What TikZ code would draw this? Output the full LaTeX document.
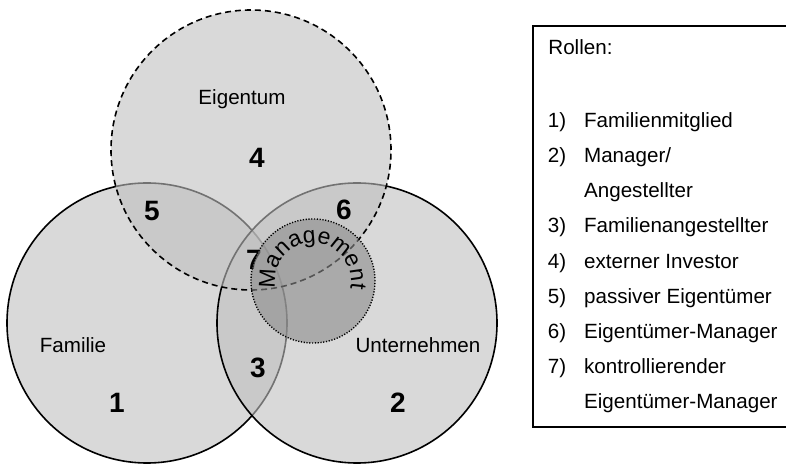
\documentclass[tikz,border=0pt]{standalone}
\usepackage{fontspec}
\setmainfont{Liberation Sans}
\usetikzlibrary{matrix,decorations.text}
\newcommand{\vennfont}{\fontsize{10.3}{12.4}\selectfont}
\newcommand{\mgmtfont}{\fontsize{11.5}{13.8}\selectfont}
\newcommand{\numfont}{\fontsize{14}{16}\selectfont\bfseries}

\begin{document}
\begin{tikzpicture}[x=0.5pt, y=0.5pt,
		menge/.style={circle, inner sep=0pt, minimum size=140pt, draw=black, line width=0.8pt, fill=black!25, fill opacity=0.6},
		mgmt/.style={circle, inner sep=0pt, minimum size=62pt, draw=black, line width=0.7pt, dash pattern=on 0.6pt off 0.8pt, fill=black!45, fill opacity=0.6},
		titel/.style={font=\vennfont, inner sep=0pt},
		nr/.style={font=\numfont, inner sep=0pt}]
	\useasboundingbox (0,0) rectangle (786,465);
	\node (fam) [menge] at (147,142) {};
	\node (unt) [menge] at (357,142) {};
	\node (eig) [menge, dash pattern=on 3pt off 2pt] at (251,315) {};
	\node (n7) [nr] at (254,205) {7};
	\node (man) [mgmt] at (313,184) {};
	\node (t-eig) [titel] at (242,366) {Eigentum};
	\node (t-fam) [titel] at (73,120) {Familie};
	\node (t-unt) [titel] at (418,120) {Unternehmen};
	\node (n1) [nr] at (117,62) {1};
	\node (n2) [nr] at (398,62) {2};
	\node (n3) [nr] at (258,97) {3};
	\node (n4) [nr] at (257,307) {4};
	\node (n5) [nr] at (152,254) {5};
	\node (n6) [nr] at (344,255) {6};
	\path[decorate, decoration={text along path, text align=center, text={|\mgmtfont|Management}}]
		(man.center) ++(200:38) arc[start angle=200, end angle=-20, radius=38];
	\draw[line width=0.75pt] (533,439) rectangle (790,38);
	\node (rollen) [titel, anchor=west] at (548,418) {Rollen:};
	\matrix (leg) [matrix of nodes, anchor=north west, inner sep=0pt, row sep=7.1pt, column sep=9pt,
		nodes={anchor=base west, inner sep=0pt, text height=8pt, text depth=2.5pt, font=\vennfont}] at (547,354)
	{
		1) & Familienmitglied\\
		2) & Manager/\\
		   & Angestellter\\
		3) & Familienangestellter\\
		4) & externer Investor\\
		5) & passiver Eigentümer\\
		6) & Eigentümer-Manager\\
		7) & kontrollierender\\
		   & Eigentümer-Manager\\
	};
\end{tikzpicture}
\end{document}
